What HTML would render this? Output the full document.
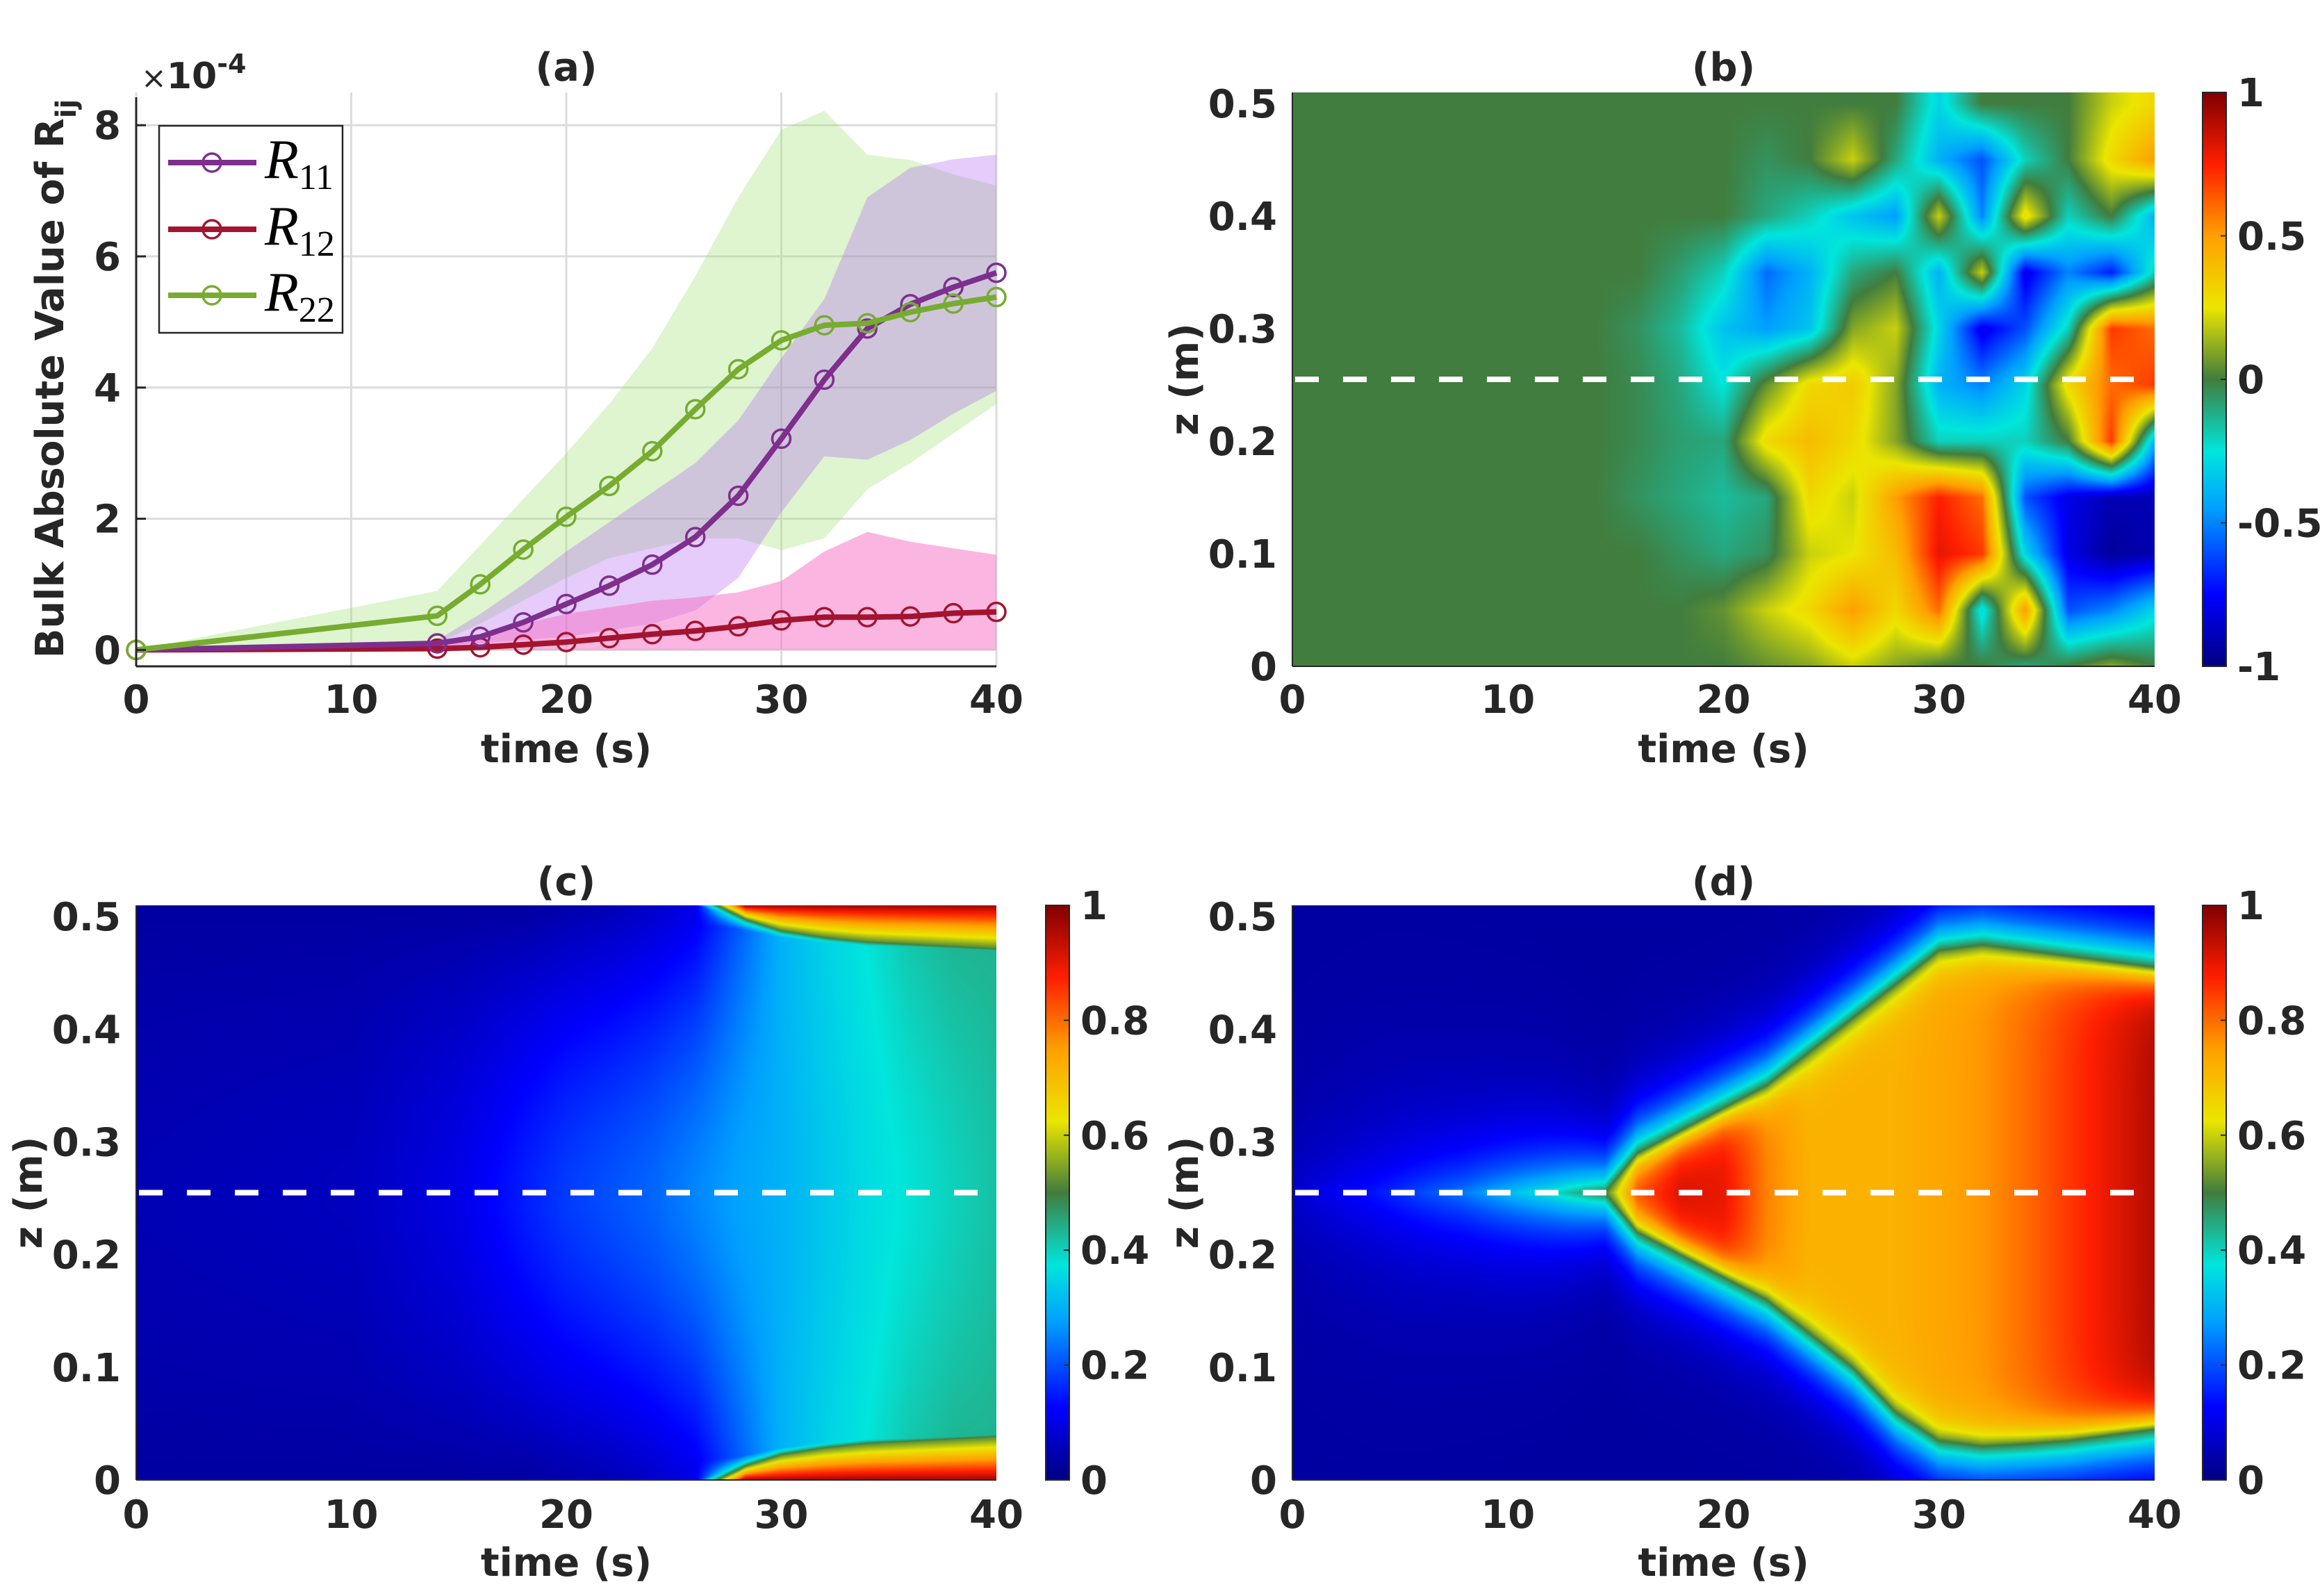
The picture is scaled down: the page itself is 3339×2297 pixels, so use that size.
<!DOCTYPE html>
<html><head><meta charset="utf-8"><style>
html,body{margin:0;padding:0;background:#fff;}
#wrap{position:relative;width:3339px;height:2297px;overflow:hidden;background:#fff;}
canvas{position:absolute;}
svg{position:absolute;left:0;top:0;}
text{font-family:"DejaVu Sans","Liberation Sans",sans-serif;font-weight:bold;fill:#262626;}
</style></head><body>
<div id="wrap">
<canvas id="cb" style="left:1860px;top:133px" width="1241" height="826"></canvas>
<canvas id="cc" style="left:196px;top:1303px" width="1238" height="827"></canvas>
<canvas id="cd" style="left:1860px;top:1303px" width="1241" height="827"></canvas>
<canvas id="cbarb" style="left:3170px;top:133px" width="34" height="826"></canvas>
<canvas id="cbarc" style="left:1505px;top:1303px" width="34" height="827"></canvas>
<canvas id="cbard" style="left:3170px;top:1303px" width="34" height="827"></canvas>
<svg id="s" width="3339" height="2297" xmlns="http://www.w3.org/2000/svg"></svg>
</div>
<script>
// ---------- Panel (a) data ----------
const aTimes = [0,14,16,18,20,22,24,26,28,30,32,34,36,38,40];
const r11 = [0,0.1,0.2,0.42,0.7,0.98,1.3,1.72,2.35,3.22,4.12,4.9,5.27,5.53,5.75];
const r12 = [0,0.02,0.04,0.08,0.12,0.18,0.24,0.29,0.36,0.45,0.5,0.5,0.51,0.56,0.58];
const r22 = [0,0.52,1.0,1.53,2.03,2.5,3.03,3.67,4.28,4.72,4.95,4.98,5.15,5.28,5.38];
const r22Upper = [0,0.9,1.6,2.3,3.0,3.75,4.6,5.7,6.9,7.93,8.22,7.55,7.47,7.25,7.08];
const r22Lower = [0,0.1,0.4,0.75,1.1,1.4,1.55,1.7,1.7,1.52,1.7,2.45,2.85,3.3,3.75];
const r11Upper = [0,0.15,0.55,1.0,1.5,1.95,2.4,2.85,3.5,4.45,5.35,6.9,7.35,7.48,7.55];
const r11Lower = [0,0.05,0.1,0.15,0.2,0.3,0.4,0.6,1.1,2.1,2.95,2.9,3.2,3.6,3.95];
const r12Upper = [0,0.05,0.2,0.4,0.55,0.65,0.75,0.8,0.88,1.05,1.5,1.8,1.65,1.55,1.45];
const r12Lower = [0,0,0,0,0,0,0,0,0,0,0,0,0,0,0];
const aXTicks = [0,10,20,30,40];
const aYTicks = [0,2,4,6,8];

// ---------- Panel (b) data: grid values (rows z=0..0.5, cols t) ----------
const bT = [14,16,18,20,22,24,26,28,30,32,34,36,38,40];
const bZ = [0,0.05,0.1,0.15,0.2,0.25,0.3,0.35,0.4,0.45,0.5];
const bVals = [
 [0,0,0,0,0.05,0.1,0.2,0.1,0,0,-0.1,0,0.1,0],
 [0,0,0,0.05,0.2,0.3,0.5,0.3,0.6,-0.3,0.5,-0.6,-0.5,-0.3],
 [0,0,-0.05,-0.1,-0.05,0.2,0.25,0.4,0.8,0.7,-0.3,-0.8,-0.95,-0.9],
 [0,-0.05,-0.1,-0.15,-0.1,0.3,0.2,0.5,0.75,0.6,-0.6,-0.8,-0.9,-0.9],
 [0,-0.03,-0.08,-0.1,0.3,0.4,0.3,0.1,-0.2,-0.2,-0.2,0,0.7,-0.4],
 [0,-0.03,-0.1,-0.25,0.05,0.3,0.35,0.1,-0.4,-0.5,-0.3,0.3,0.6,0.7],
 [0,-0.05,-0.15,-0.35,-0.45,-0.35,0.1,0.2,-0.3,-0.8,-0.6,-0.2,0.7,0.6],
 [0,0,-0.08,-0.2,-0.55,-0.4,-0.1,0,-0.4,0.2,-0.8,-0.5,-0.7,-0.2],
 [0,0,0,0,-0.1,-0.2,-0.35,-0.45,0.2,-0.5,0.3,-0.2,0,-0.4],
 [0,0,0,0,-0.05,0,0.2,-0.1,-0.4,-0.6,-0.2,0,0.3,0.5],
 [0,0,0,0,0,0,0,0,-0.3,0,0,0,0.2,0.3]
];
const bCbTicks = [-1,-0.5,0,0.5,1];

// ---------- Panel (c) data ----------
const cTimes = [0,10,15,18,20,22,24,26,28,30,32,34,36,38,40];
const cCore = [0.05,0.06,0.1,0.15,0.18,0.2,0.22,0.25,0.28,0.3,0.33,0.36,0.38,0.4,0.42];
const cEdge = [0.03,0.03,0.03,0.03,0.04,0.05,0.07,0.1,0.2,0.3,0.35,0.38,0.42,0.44,0.44];
const cWall = [0,0,0,0,0,0,0,0,0.01,0.022,0.028,0.032,0.034,0.036,0.038];

// ---------- Panel (d) data ----------
const dTimes = [14.5,16,18,20,22,24,26,28,30,32,34,36,38,40];
const dUpper = [0.255,0.29,0.31,0.33,0.35,0.38,0.41,0.44,0.47,0.475,0.47,0.465,0.46,0.455];
const dLower = [0.255,0.22,0.2,0.18,0.16,0.13,0.10,0.06,0.035,0.03,0.032,0.035,0.04,0.045];
const dInterior = [0.6,0.85,0.92,0.9,0.78,0.72,0.72,0.72,0.74,0.76,0.8,0.85,0.9,0.95];
const tongueT = [0,4,8,12,14.5];
const tongueV = [0.1,0.25,0.45,0.75,1];
const tongueW = [0.06,0.06,0.05,0.04,0.03];
const zTicks = [0,0.1,0.2,0.3,0.4,0.5];
const cdCbTicks = [0,0.2,0.4,0.6,0.8,1];
const dashZ = 0.255;

// ---------- helpers ----------
const NS="http://www.w3.org/2000/svg";
const svg=document.getElementById('s');
function el(tag,attrs,parent){const e=document.createElementNS(NS,tag);for(const k in attrs)e.setAttribute(k,attrs[k]);(parent||svg).appendChild(e);return e;}
function interp(xs,ys,x){if(x<=xs[0])return ys[0];if(x>=xs[xs.length-1])return ys[ys.length-1];for(let i=0;i<xs.length-1;i++){if(x<=xs[i+1]){const f=(x-xs[i])/(xs[i+1]-xs[i]);return ys[i]+f*(ys[i+1]-ys[i]);}}return ys[ys.length-1];}
const stops=[[-1,[0,0,130]],[-0.75,[0,0,255]],[-0.45,[0,160,255]],[-0.25,[0,230,220]],[0,[65,125,62]],[0.25,[235,230,0]],[0.5,[255,160,0]],[0.75,[255,30,0]],[1,[128,0,0]]];
function cmap(v){v=Math.max(-1,Math.min(1,v));for(let i=0;i<stops.length-1;i++){if(v<=stops[i+1][0]){const f=(v-stops[i][0])/(stops[i+1][0]-stops[i][0]);const a=stops[i][1],b=stops[i+1][1];return [a[0]+f*(b[0]-a[0]),a[1]+f*(b[1]-a[1]),a[2]+f*(b[2]-a[2])];}}return stops[stops.length-1][1];}
function paint(id,fn,zmax){const c=document.getElementById(id);const ctx=c.getContext('2d');const W=c.width,H=c.height;const img=ctx.createImageData(W,H);
 for(let y=0;y<H;y++){const z=zmax*(1-(y+0.5)/H);for(let x=0;x<W;x++){const t=40*(x+0.5)/W;const col=cmap(fn(t,z));const o=(y*W+x)*4;img.data[o]=col[0];img.data[o+1]=col[1];img.data[o+2]=col[2];img.data[o+3]=255;}}
 ctx.putImageData(img,0,0);}
function bField(t,z){if(t<bT[0])return 0;let i=0;while(i<bT.length-2&&t>bT[i+1])i++;let j=0;z=Math.min(z,0.5);while(j<bZ.length-2&&z>bZ[j+1])j++;
 const ft=Math.min(1,(t-bT[i])/(bT[i+1]-bT[i])),fz=Math.min(1,(z-bZ[j])/(bZ[j+1]-bZ[j]));
 const v00=bVals[j][i],v01=bVals[j][i+1],v10=bVals[j+1][i],v11=bVals[j+1][i+1];
 return (v00*(1-ft)+v01*ft)*(1-fz)+(v10*(1-ft)+v11*ft)*fz;}
function cField(t,z){const core=interp(cTimes,cCore,t),edge=interp(cTimes,cEdge,t);const dz=Math.min(1,Math.abs(z-0.255)/0.255);const p=Math.pow(dz,1.5);let v=core+(edge-core)*p;
 const th=interp(cTimes,cWall,t);if(th>0){const amp=Math.min(1,th/0.012);const d=Math.min(z,0.51-z);let w;if(d<th)w=0.97-0.45*(d/th);else w=0.52*Math.exp(-(d-th)/0.012);w=v+(w-v)*amp;v=Math.max(v,w);}
 return 2*v-1;}
function dField(t,z){let v;if(t<dTimes[0]){const a=interp(tongueT,tongueV,t),w=interp(tongueT,tongueW,t);v=0.03+0.47*a*Math.exp(-Math.abs(z-0.255)/w);}
 else{const up=interp(dTimes,dUpper,t),lo=interp(dTimes,dLower,t),inn=interp(dTimes,dInterior,t);
  if(z<=up&&z>=lo){const di=Math.min(up-z,z-lo);v=inn-(inn-0.5)*Math.exp(-di/0.015);}
  else{const d=z>up?z-up:lo-z;v=0.03+0.47*Math.exp(-d/0.03);}}
 return 2*v-1;}
paint('cb',bField,0.51);paint('cc',cField,0.51);paint('cd',dField,0.51);
function cbar(id){const c=document.getElementById(id);const ctx=c.getContext('2d');for(let y=0;y<c.height;y++){const col=cmap(1-2*(y+0.5)/c.height);ctx.fillStyle='rgb('+col.map(Math.round).join(',')+')';ctx.fillRect(0,y,c.width,1);}}
cbar('cbarb');cbar('cbarc');cbar('cbard');

// ---------- Panel (a) drawing ----------
const A={L:196,R:1434,T:133,B:959,ymin:-0.25,ymax:8.5};
const ax=t=>A.L+(t/40)*(A.R-A.L);
const ay=v=>A.B-(v-A.ymin)/(A.ymax-A.ymin)*(A.B-A.T);
const ga=el('g',{});

for(const t of aXTicks){const g=el('line',{x1:ax(t),x2:ax(t),y1:A.T,y2:A.B,stroke:'#dcdcdc','stroke-width':3},ga);}
for(const v of aYTicks){const g=el('line',{x1:A.L,x2:A.R,y1:ay(v),y2:ay(v),stroke:'#dcdcdc','stroke-width':3},ga);}
function band(up,lo,fill,name){let d='';aTimes.forEach((t,i)=>{d+=(i?'L':'M')+ax(t)+','+ay(up[i]);});for(let i=aTimes.length-1;i>=0;i--)d+='L'+ax(aTimes[i])+','+ay(lo[i]);d+='Z';
 const p=el('path',{d:d,fill:fill},ga);}
band(r22Upper,r22Lower,'rgba(160,225,120,0.35)','r22-band');
band(r11Upper,r11Lower,'rgba(180,110,240,0.35)','r11-band');
band(r12Upper,r12Lower,'rgba(245,110,195,0.5)','r12-band');
function series(vals,color,name){let d='';aTimes.forEach((t,i)=>{d+=(i?'L':'M')+ax(t)+','+ay(vals[i]);});
 const p=el('path',{d:d,fill:'none',stroke:color,'stroke-width':8,'stroke-linejoin':'round'},ga);
 aTimes.forEach((t,i)=>{const c=el('circle',{cx:ax(t),cy:ay(vals[i]),r:13,fill:'none',stroke:color,'stroke-width':3.5},ga);});}
series(r12,'#A2142F','r12');series(r11,'#7E2F8E','r11');series(r22,'#77AC30','r22');
el('line',{x1:A.L,x2:A.L,y1:A.T+7,y2:A.B,stroke:'#262626','stroke-width':3},ga);
el('line',{x1:A.L,x2:A.R,y1:A.B,y2:A.B,stroke:'#262626','stroke-width':3},ga);
for(const v of aYTicks){el('line',{x1:A.L,x2:A.L+14,y1:ay(v),y2:ay(v),stroke:'#262626','stroke-width':3},ga);
 const tx=el('text',{x:A.L-22,y:ay(v)+20,'font-size':56,'text-anchor':'end'},ga);tx.textContent=v;}
// legend
const lg=el('g',{});
el('rect',{x:229,y:181,width:264,height:298,fill:'#fff',stroke:'#262626','stroke-width':2.5},lg);
[['#7E2F8E','11',234],['#A2142F','12',330],['#77AC30','22',425]].forEach(e=>{
 const g=el('g',{},lg);
 el('line',{x1:242,x2:369,y1:e[2],y2:e[2],stroke:e[0],'stroke-width':8},g);
 el('circle',{cx:305,cy:e[2],r:13,fill:'none',stroke:e[0],'stroke-width':3.5},g);
 const t=el('text',{x:381,y:e[2]+22,style:'font-family:"Liberation Serif",serif;font-style:italic;font-weight:normal;fill:#000','font-size':80},g);
 t.textContent='R';
 const s=el('tspan',{'font-size':52,'font-style':'normal',dy:16},t);s.textContent=e[1];});

// ---------- heatmap axes (b,c,d) ----------
function hmAxes(P,name){const g=el('g',{});
 const hx=t=>P.L+(t/40)*(P.R-P.L);const hy=z=>P.B-(z/0.51)*(P.B-P.T);
 if(P.dash){const d=el('line',{x1:P.L+4,x2:P.R,y1:hy(dashZ),y2:hy(dashZ),stroke:'#fff','stroke-width':8,'stroke-dasharray':'34 35'},g);}
 el('line',{x1:P.L,x2:P.L,y1:P.T,y2:P.B,stroke:'#262626','stroke-width':2},g);
 el('line',{x1:P.L,x2:P.R,y1:P.B,y2:P.B,stroke:'#262626','stroke-width':2},g);
 for(const z of zTicks){const t=el('text',{x:P.L-22,y:hy(z)+20,'font-size':56,'text-anchor':'end'},g);t.textContent=z;}
 const yl=el('text',{x:0,y:0,'font-size':56,'text-anchor':'middle',transform:'translate('+(P.L-136)+','+((P.T+P.B)/2)+') rotate(-90)'},g);yl.textContent='z (m)';
 el('rect',{x:P.cbx,y:P.T,width:34,height:P.B-P.T,fill:'none',stroke:'#262626','stroke-width':2},g);
 const lo=P.cb[0],hi=P.cb[P.cb.length-1];
 for(const v of P.cb){const yy=P.B-(v-lo)/(hi-lo)*(P.B-P.T);el('line',{x1:P.cbx+26,x2:P.cbx+34,y1:yy,y2:yy,stroke:'#262626','stroke-width':2},g);
  const t=el('text',{x:P.cbx+50,y:yy+20,'font-size':56},g);t.textContent=v;}
 return g;}
function xAxisLabels(P,tickY,labY,titleY,title){const hx=t=>P.L+(t/40)*(P.R-P.L);
 for(const t of aXTicks){const e=el('text',{x:hx(t),y:tickY,'font-size':56,'text-anchor':'middle'});e.textContent=t;}
 const xl=el('text',{x:(P.L+P.R)/2,y:labY,'font-size':56,'text-anchor':'middle'});xl.textContent='time (s)';
 const ti=el('text',{x:(P.L+P.R)/2,y:titleY,'font-size':56,'text-anchor':'middle'});ti.textContent=title;}
const PB={L:1860,R:3101,T:133,B:959,cbx:3170,cb:bCbTicks,dash:true};
const PC={L:196,R:1434,T:1303,B:2130,cbx:1505,cb:cdCbTicks,dash:true};
const PD={L:1860,R:3101,T:1303,B:2130,cbx:3170,cb:cdCbTicks,dash:true};
hmAxes(PB,'panel-b');hmAxes(PC,'panel-c');hmAxes(PD,'panel-d');
xAxisLabels(A,1026,1097,116,'(a)');
xAxisLabels(PB,1026,1097,116,'(b)');
xAxisLabels(PC,2199,2268,1288,'(c)');
xAxisLabels(PD,2199,2268,1288,'(d)');
// panel a extras
const yla=el('text',{x:0,y:0,'font-size':56,'text-anchor':'middle',transform:'translate(91,545) rotate(-90)'});

yla.textContent='Bulk Absolute Value of R';const sub=el('tspan',{'font-size':40,dy:18},yla);sub.textContent='ij';
const ex=el('text',{x:203,y:127,'font-size':52});
const exm=el('tspan',{'font-weight':'normal','font-size':44},ex);exm.textContent='×';
const ex10=el('tspan',{},ex);ex10.textContent='10';
const exp=el('tspan',{'font-size':38,dy:-22},ex);exp.textContent='-4';
</script>
</body></html>
